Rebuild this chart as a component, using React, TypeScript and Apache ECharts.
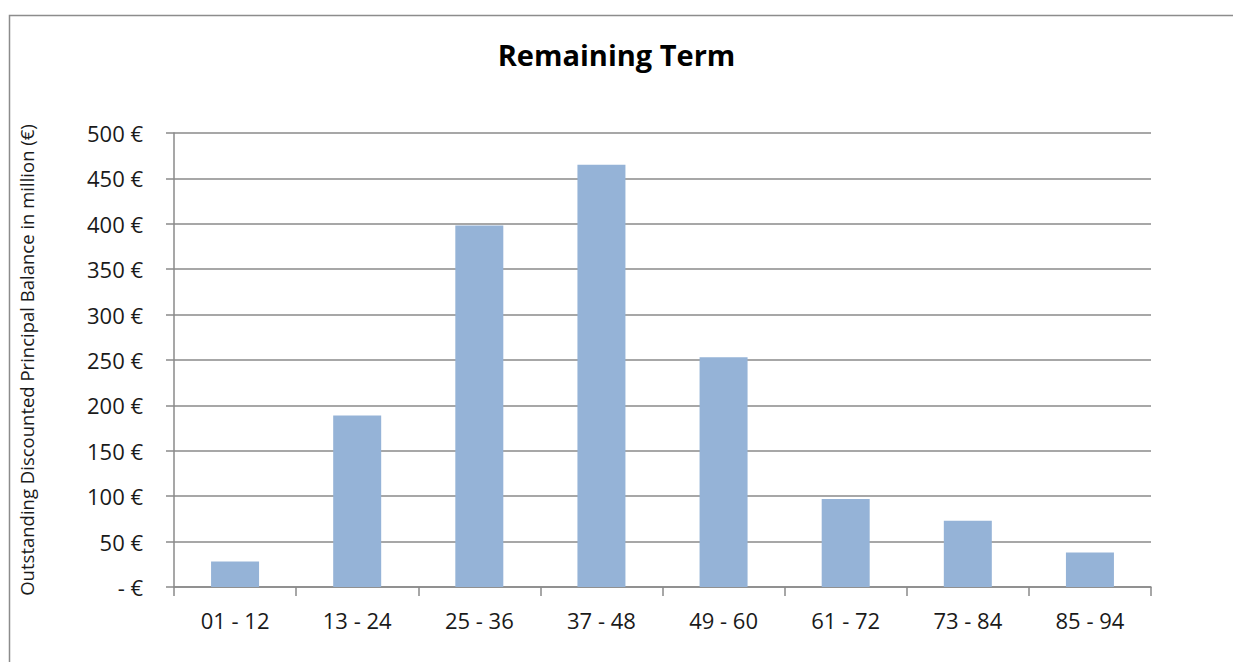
import React, { useEffect, useRef } from "react";
import * as echarts from "echarts";

const categories = ["01 - 12", "13 - 24", "25 - 36", "37 - 48", "49 - 60", "61 - 72", "73 - 84", "85 - 94"];
const balances = [28, 189, 398, 465, 253, 97, 73, 38];
const yTicks = [0, 50, 100, 150, 200, 250, 300, 350, 400, 450, 500];
const title = "Remaining Term";
const yAxisName = "Outstanding Discounted Principal Balance in million (€)";

const FONT = "Open Sans";

export default function App() {
  const ref = useRef<HTMLDivElement>(null);
  useEffect(() => {
    if (!ref.current) return;
    const chart = echarts.init(ref.current, undefined, { renderer: "svg" });
    chart.setOption({
      animation: false,
      backgroundColor: "#ffffff",
      title: {
        text: title,
        left: "center",
        top: 35,
        textStyle: { fontFamily: FONT, fontWeight: "bold", fontSize: 29, color: "#000000" },
      },
      graphic: [
        {
          type: "rect",
          shape: { x: 9.5, y: 15.5, width: 1400, height: 800 },
          style: { fill: "none", stroke: "#8c8c8c", lineWidth: 1.5 },
          silent: true,
        },
      ],
      grid: { left: 174, right: 82, top: 133, bottom: 75, containLabel: false },
      xAxis: {
        type: "category",
        data: categories,
        axisLine: { show: true, lineStyle: { color: "#8a8a8a", width: 1.5 } },
        axisTick: { show: true, length: 9, lineStyle: { color: "#8a8a8a", width: 1.5 } },
        axisLabel: { fontFamily: FONT, fontSize: 22, color: "#1a1a1a", margin: 22 },
      },
      yAxis: {
        type: "value",
        min: yTicks[0],
        max: yTicks[yTicks.length - 1],
        interval: 50,
        name: yAxisName,
        nameLocation: "middle",
        nameGap: 138,
        nameRotate: 90,
        nameTextStyle: { fontFamily: FONT, fontSize: 18.5, color: "#1a1a1a" },
        axisLine: { show: true, lineStyle: { color: "#8a8a8a", width: 1.5 } },
        axisTick: { show: true, length: 8, lineStyle: { color: "#8a8a8a", width: 1.5 } },
        splitLine: { show: true, lineStyle: { color: "#8a8a8a", width: 1.5 } },
        axisLabel: {
          fontFamily: FONT,
          fontSize: 22,
          color: "#1a1a1a",
          margin: 31,
          formatter: (v: number) => (v === 0 ? "- €" : `${v} €`),
        },
      },
      series: [
        {
          type: "bar",
          data: balances,
          barWidth: 48,
          itemStyle: { color: "#95b3d7" },
        },
      ],
    });
    return () => chart.dispose();
  }, []);
  return (
    <div
      ref={ref}
      style={{ position: "absolute", left: 0, top: 0, width: 1233, height: 662 }}
    />
  );
}
